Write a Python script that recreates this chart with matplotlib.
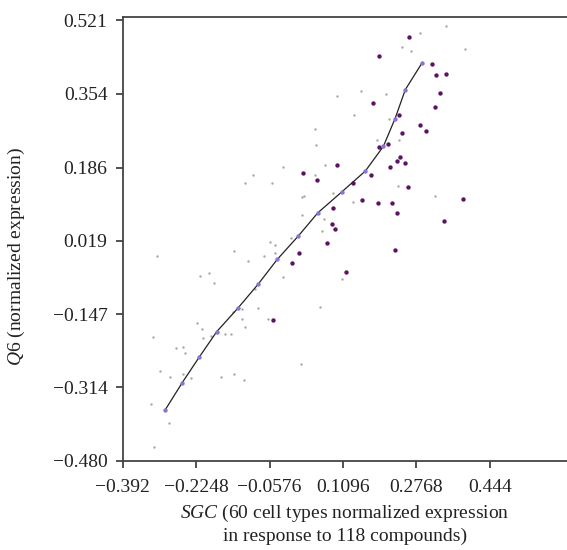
import matplotlib
matplotlib.use("Agg")
import matplotlib.pyplot as plt

plt.rcParams['font.family'] = ['Liberation Serif', 'DejaVu Serif']
plt.rcParams['mathtext.fontset'] = 'custom'
plt.rcParams['mathtext.rm'] = 'Liberation Serif'
plt.rcParams['mathtext.it'] = 'Liberation Serif:italic'

# Fitted curve (line with markers)
fit_x = [-0.2948, -0.2567, -0.2173, -0.1776, -0.1297, -0.0834, -0.0400, 0.0072,
         0.0528, 0.1066, 0.1607, 0.2018, 0.2284, 0.2519, 0.2891]
fit_y = [-0.3643, -0.3035, -0.2444, -0.1868, -0.1338, -0.0791, -0.0229, 0.0294,
         0.0834, 0.1302, 0.1780, 0.2342, 0.2973, 0.3633, 0.4225]

# Highlighted (purple) points
hi_x = [0.2604, 0.1910, 0.3128, 0.3210, 0.3455, 0.3318, 0.1789, 0.3204, 0.2382, 0.2846,
        0.2444, 0.2982, 0.1926, 0.2116, 0.2398, 0.2330, 0.2503, 0.2177, 0.0961, 0.0193,
        0.0505, 0.1737, 0.2572, 0.3835, 0.1539, 0.1888, 0.2223, 0.0870, 0.3393, 0.1317,
        0.2321, 0.0854, 0.0916, 0.0724, 0.2291, 0.1158, 0.0101, -0.0058, -0.0492]
hi_y = [0.4823, 0.4398, 0.4209, 0.3974, 0.3988, 0.3565, 0.3328, 0.3246, 0.3064, 0.2827,
        0.2654, 0.2691, 0.2336, 0.2395, 0.2108, 0.2008, 0.1971, 0.1880, 0.1910, 0.1728,
        0.1575, 0.1689, 0.1409, 0.1136, 0.1113, 0.1052, 0.1045, 0.0931, 0.0652, 0.1516,
        0.0834, 0.0567, 0.0454, 0.0142, -0.0008, -0.0518, -0.0093, -0.0320, -0.1611]

# Other (gray) points
gr_x = [0.0450, 0.0473, -0.0280, -0.0948, -0.1137, -0.0508, 0.0459, 0.0163, 0.0215, 0.3454,
        0.2861, 0.2444, 0.2649, 0.3881, 0.1499, 0.2070, 0.0961, 0.1340, 0.2138, 0.1880,
        0.2366, 0.0687, 0.0861, 0.1333, 0.2359, 0.3197, 0.0170, 0.0656, 0.0626, 0.1082,
        0.0573, 0.0147, -0.3131, -0.1381, -0.1069, -0.0576, -0.0453, -0.0453, -0.0697, -0.0081,
        -0.2150, -0.1952, -0.1845, -0.0280, -0.0902, -0.0834, -0.1397, -0.1199, -0.1192, -0.1124,
        -0.0613, -0.2219, -0.2118, -0.2082, -0.1913, -0.1580, -0.1457, -0.3236, -0.2704, -0.2552,
        -0.2492, -0.3063, -0.2835, -0.2552, -0.2362, -0.1685, -0.1375, -0.1153, -0.3275, -0.2857,
        -0.3213]
gr_y = [0.2729, 0.2365, 0.1871, 0.1689, 0.1516, 0.1516, 0.1689, 0.1189, 0.1211, 0.5080,
        0.4907, 0.4596, 0.4511, 0.4557, 0.3610, 0.3533, 0.3496, 0.3055, 0.2957, 0.2486,
        0.2495, 0.1917, 0.1289, 0.1068, 0.1448, 0.1212, 0.0788, 0.0681, 0.0415, -0.0668,
        -0.1315, -0.2612, -0.0161, -0.0040, -0.0275, 0.0158, 0.0105, -0.0086, -0.0154, 0.0256,
        -0.0600, -0.0548, -0.0768, -0.0632, -0.0896, -0.1322, -0.1428, -0.1351, -0.1572, -0.1754,
        -0.1572, -0.1663, -0.1822, -0.2011, -0.1959, -0.1920, -0.1913, -0.1997, -0.2239, -0.2225,
        -0.2362, -0.2755, -0.2908, -0.2830, -0.2921, -0.2892, -0.2840, -0.2960, -0.3513, -0.3946,
        -0.4501]

x_ticks = [-0.392, -0.2248, -0.0576, 0.1096, 0.2768, 0.444]
x_tick_labels = ["\u22120.392", "\u22120.2248", "\u22120.0576", "0.1096", "0.2768", "0.444"]
y_ticks = [-0.480, -0.314, -0.147, 0.019, 0.186, 0.354, 0.521]
y_tick_labels = ["\u22120.480", "\u22120.314", "\u22120.147", "0.019", "0.186", "0.354", "0.521"]

fig = plt.figure(figsize=(5.67, 5.5), dpi=100)
ax = fig.add_axes([0.2164, 0.1627, 1.0 - 0.2164, 0.969 - 0.1627])

ax.scatter(gr_x, gr_y, s=3, color='#a8a8a8', linewidths=0, zorder=2)
ax.scatter(hi_x, hi_y, s=10, color='#5e1263', linewidths=0, zorder=3)
ax.plot(fit_x, fit_y, color='#222222', linewidth=0.9, zorder=4)
ax.scatter(fit_x, fit_y, s=10, color='#8a72d6', linewidths=0, zorder=5)

ax.set_xlim(-0.392, 0.620)
ax.set_ylim(-0.480, 0.528)
ax.set_xticks(x_ticks)
ax.set_xticklabels(x_tick_labels)
ax.set_yticks(y_ticks)
ax.set_yticklabels(y_tick_labels)

for side in ['top', 'bottom', 'left']:
    ax.spines[side].set_color('#444444')
    ax.spines[side].set_linewidth(1.3)
ax.spines['right'].set_visible(False)
ax.tick_params(axis='both', direction='out', length=5, width=1.1, color='#222222',
               labelsize=14, labelcolor='#222222')
ax.tick_params(axis='x', pad=8)
ax.tick_params(axis='y', pad=6)

ax.set_xlabel("$\\it{SGC}$ (60 cell types normalized expression\nin response to 118 compounds)",
              fontsize=14, color='#222222', labelpad=5, linespacing=1.3)
ax.set_ylabel("$\\it{Q}$6 (normalized expression)", fontsize=14, color='#222222')
ax.yaxis.set_label_coords(-0.215, 0.46)

fig.savefig("out.png", dpi=100)
